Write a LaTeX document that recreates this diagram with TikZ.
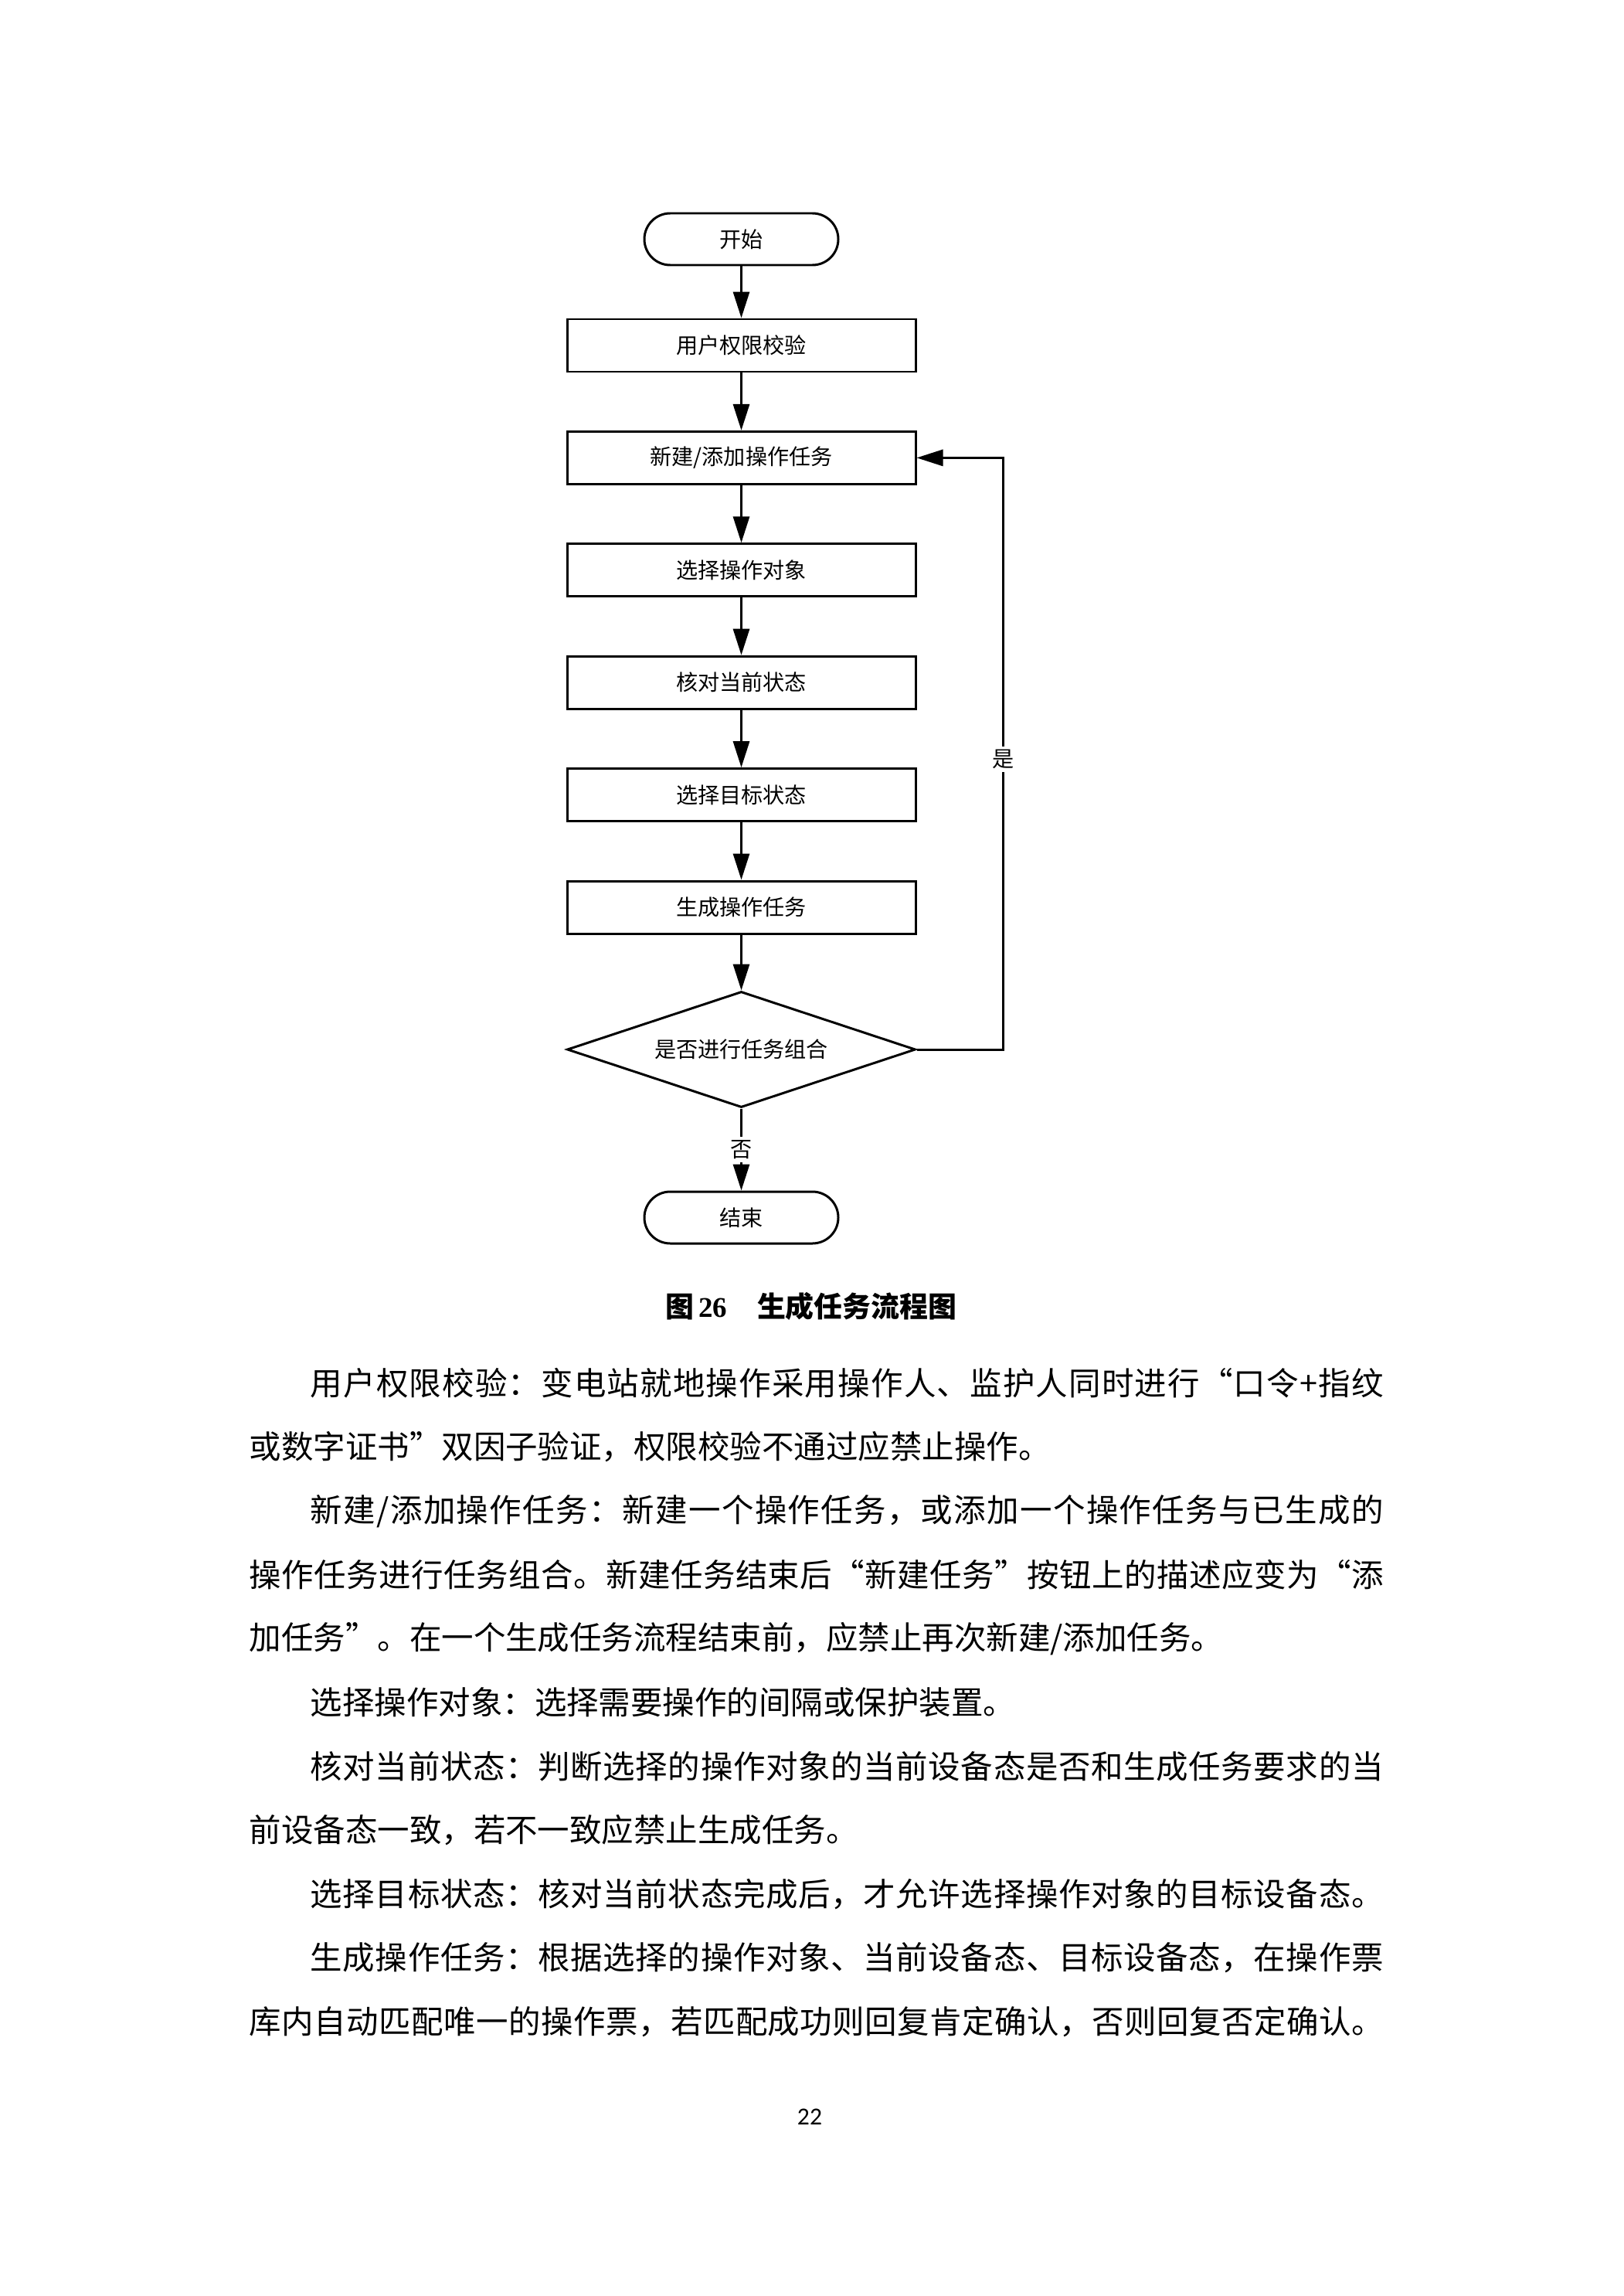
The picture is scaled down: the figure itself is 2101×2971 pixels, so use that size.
\documentclass[tikz,border=0pt]{standalone}
\usepackage{fontspec}
\setmainfont{Liberation Serif}
\newfontfamily\cjk{Noto Sans CJK SC}
\newfontfamily\numfont{Carlito}
\usetikzlibrary{arrows.meta,shapes.geometric}
\makeatletter
\newcommand\jline[2]{\hbox to #1{\@tfor\jch:=#2\do{\jch\hskip 0pt plus 1fil minus 1.5pt}\unskip}}
\makeatother
\newcommand\bodyfont{\cjk\fontsize{11.8pt}{14pt}\selectfont}
\tikzset{
  base/.style={draw, line width=0.85pt, font=\cjk\fontsize{8pt}{9pt}\selectfont, inner sep=0pt},
  term/.style={base, rectangle, rounded corners=3.35mm, minimum width=25.1mm, minimum height=6.7mm},
  proc/.style={base, rectangle, minimum width=45.1mm, minimum height=6.8mm},
  decis/.style={base, diamond, minimum width=45.1mm, minimum height=15mm},
  conn/.style={line width=0.85pt, -{Triangle[length=3.4mm,width=2.1mm]}},
  lbl/.style={fill=white, font=\cjk\fontsize{8pt}{9pt}\selectfont, inner sep=1.2pt},
  txt/.style={anchor=west, inner sep=0pt, font=\bodyfont}
}
\begin{document}
\begin{tikzpicture}[x=0.1mm,y=-0.1mm]
\useasboundingbox (0,0) rectangle (2101,2971);
\node[term] (start) at (959.5,309.5) {开始};
\node[proc] (b1) at (959.5,447) {用户权限校验};
\node[proc] (b2) at (959.5,592.4) {新建/添加操作任务};
\node[proc] (b3) at (959.5,737.8) {选择操作对象};
\node[proc] (b4) at (959.5,883.2) {核对当前状态};
\node[proc] (b5) at (959.5,1028.6) {选择目标状态};
\node[proc] (b6) at (959.5,1174) {生成操作任务};
\node[decis] (dec) at (959.5,1358) {};
\node[font=\cjk\fontsize{8pt}{9pt}\selectfont] (dectext) at (dec) {是否进行任务组合};
\node[term] (end) at (959.5,1575.5) {结束};
\draw[conn] (start) -- (b1);
\draw[conn] (b1) -- (b2);
\draw[conn] (b2) -- (b3);
\draw[conn] (b3) -- (b4);
\draw[conn] (b4) -- (b5);
\draw[conn] (b5) -- (b6);
\draw[conn] (b6) -- (dec);
\draw[conn] (dec) -- node[lbl] {否} (end);
\draw[conn] (dec.east) -- ++(11.2mm,0) |- node[lbl, pos=0.245] {是} (b2.east);
% caption
\node[inner sep=0pt] (cap) at (1050,1690) {{\cjk\bfseries\fontsize{10.5pt}{12pt}\selectfont 图}\,{\bfseries\fontsize{10.5pt}{12pt}\selectfont 26}\hspace{1.1em}{\cjk\bfseries\fontsize{10.5pt}{12pt}\selectfont 生成任务流程图}};
% body text
\node[txt] (l0) at (401,1790) {\jline{138.9mm}{用户权限校验：变电站就地操作采用操作人、监护人同时进行“口令+指纹}};
\node[txt] (l1) at (322,1872.6) {或数字证书”双因子验证，权限校验不通过应禁止操作。};
\node[txt] (l2) at (401,1955.2) {\jline{138.9mm}{新建/添加操作任务：新建一个操作任务，或添加一个操作任务与已生成的}};
\node[txt] (l3) at (322,2037.8) {\jline{146.8mm}{操作任务进行任务组合。新建任务结束后“新建任务”按钮上的描述应变为“添}};
\node[txt] (l4) at (322,2120.4) {加任务”。在一个生成任务流程结束前，应禁止再次新建/添加任务。};
\node[txt] (l5) at (401,2203) {选择操作对象：选择需要操作的间隔或保护装置。};
\node[txt] (l6) at (401,2285.6) {\jline{138.9mm}{核对当前状态：判断选择的操作对象的当前设备态是否和生成任务要求的当}};
\node[txt] (l7) at (322,2368.2) {前设备态一致，若不一致应禁止生成任务。};
\node[txt] (l8) at (401,2450.8) {\jline{138.9mm}{选择目标状态：核对当前状态完成后，才允许选择操作对象的目标设备态。}};
\node[txt] (l9) at (401,2533.4) {\jline{138.9mm}{生成操作任务：根据选择的操作对象、当前设备态、目标设备态，在操作票}};
\node[txt] (l10) at (322,2616) {\jline{146.8mm}{库内自动匹配唯一的操作票，若匹配成功则回复肯定确认，否则回复否定确认。}};
\node[font=\numfont\fontsize{9pt}{10pt}\selectfont] (pg) at (1048,2739) {22};
\end{tikzpicture}
\end{document}
